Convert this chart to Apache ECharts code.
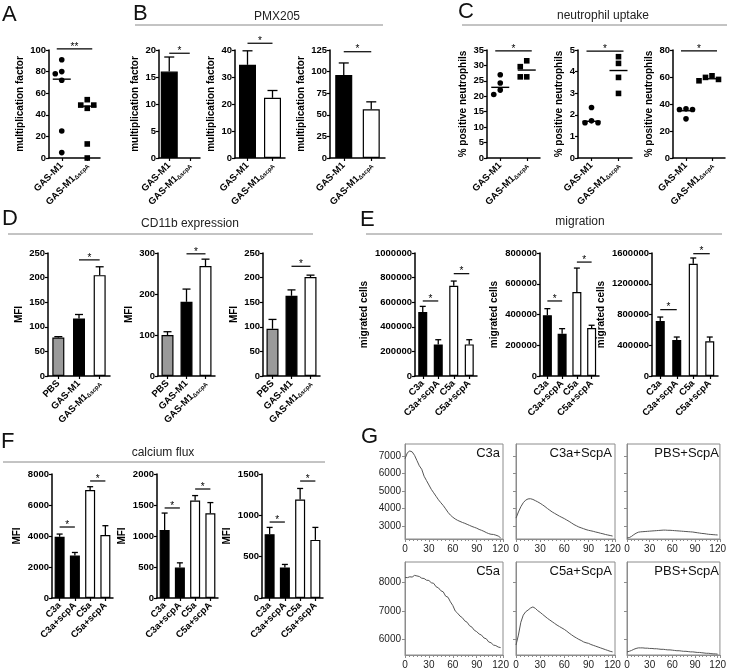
<!DOCTYPE html>
<html><head><meta charset="utf-8">
<script src="https://cdn.jsdelivr.net/npm/echarts@6/dist/echarts.min.js"></script>
<style>html,body{margin:0;padding:0;background:#fff}#c{width:729px;height:671px}</style>
</head><body><div id="c"></div>
<script>
// ================= DATA =================
const strainCats = ['GAS-M1', 'GAS-M1ΔscpA'];
const cd11Cats = ['PBS', 'GAS-M1', 'GAS-M1ΔscpA'];
const anaCats = ['C3a', 'C3a+scpA', 'C5a', 'C5a+scpA'];

// A: multiplication factor (dot plot, line = median)
const aWT = [91, 80, 78, 72, 25, 5];
const aMut = [54, 49, 49, 46, 13, 0];
const aMed = [73, 48];
const aTicks = [0, 100, 20];
const aSig = [[0, 1, 101, 2]];

// B: PMX205
const b1Vals = [16, 0],     b1Up = [18.7, 0];
const b2Vals = [34.5, 22.3], b2Up = [39.7, 25];
const b3Vals = [96, 56.5],  b3Up = [110, 65];
const b1Ticks = [0, 20, 5], b2Ticks = [0, 40, 10], b3Ticks = [0, 125, 25];
const b1Sig = [[0, 1, 19.4, 1]], b2Sig = [[0, 1, 42.5, 1]], b3Sig = [[0, 1, 123, 1]];

// C: neutrophil uptake
const c1WT = [27, 24.3, 22, 20.6],     c1Mut = [31.5, 29.6, 26.3, 26.3], c1Med = [22.9, 28.5];
const c2WT = [2.34, 1.72, 1.63, 1.63], c2Mut = [4.69, 4.38, 3.73, 2.99], c2Med = [1.70, 4.05];
const c3WT = [36.4, 35.9, 35.9, 29],   c3Mut = [60.9, 59.7, 58.2, 57.2], c3Med = [35, 58.7];
const c1Ticks = [0, 35, 5], c2Ticks = [0, 5, 1], c3Ticks = [0, 80, 20];
const c1Sig = [[0, 1, 34.7, 1]], c2Sig = [[0, 1, 4.95, 1]], c3Sig = [[0, 1, 79.3, 1]];

// D: CD11b expression
const d1Vals = [78, 117, 205],  d1Up = [80, 125, 222];
const d2Vals = [100, 181, 268], d2Up = [108, 212, 285];
const d3Vals = [96, 163, 201],  d3Up = [115, 175, 205];
const d1Ticks = [0, 250, 50], d2Ticks = [0, 300, 100], d3Ticks = [0, 250, 50];
const d1Sig = [[1, 2, 236, 1]], d2Sig = [[1, 2, 298, 1]], d3Sig = [[1, 2, 223, 1]];

// E: migration
const e1Vals = [520000, 257000, 734000, 257000],  e1Up = [566000, 295000, 772000, 295000];
const e2Vals = [395000, 275000, 546000, 312000],  e2Up = [438000, 308000, 702000, 330000];
const e3Vals = [715000, 468000, 1461000, 451000], e3Up = [767000, 507000, 1535000, 507000];
const e1Ticks = [0, 1000000, 200000], e2Ticks = [0, 800000, 200000], e3Ticks = [0, 1600000, 400000];
const e1Sig = [[0, 1, 610000, 1], [2, 3, 832000, 1]];
const e2Sig = [[0, 1, 488000, 1], [2, 3, 741000, 1]];
const e3Sig = [[0, 1, 863000, 1], [2, 3, 1591000, 1]];

// F: calcium flux
const f1Vals = [3950, 2743, 6968, 4060], f1Up = [4125, 2937, 7180, 4665];
const f2Vals = [1096, 491, 1571, 1366],  f2Up = [1370, 567, 1652, 1539];
const f3Vals = [772, 370, 1191, 703],    f3Up = [854, 406, 1325, 854];
const f1Ticks = [0, 8000, 2000], f2Ticks = [0, 2000, 500], f3Ticks = [0, 1500, 500];
const f1Sig = [[0, 1, 4580, 1], [2, 3, 7550, 1]];
const f2Sig = [[0, 1, 1452, 1], [2, 3, 1758, 1]];
const f3Sig = [[0, 1, 919, 1], [2, 3, 1415, 1]];

// G: calcium traces (time in s)
const tG = [0,3,6,9,12,15,18,21,24,27,30,33,36,39,42,45,48,51,54,57,60,63,66,69,72,75,78,81,84,87,90,93,96,99,102,105,108,111,114,117,120];
const gC3a  = [6850,7200,7300,7250,7050,6750,6450,6250,5850,5600,5350,5100,4900,4700,4500,4330,4170,3980,3780,3620,3500,3400,3320,3260,3200,3150,3090,3030,2970,2920,2870,2800,2750,2690,2620,2560,2520,2510,2470,2420,2320];
const gC3aS = [3450,3800,4100,4330,4480,4550,4560,4520,4450,4380,4300,4210,4110,4000,3900,3800,3720,3640,3560,3490,3420,3340,3260,3170,3080,3010,2940,2890,2840,2790,2750,2720,2690,2650,2620,2580,2550,2510,2480,2450,2420];
const gPBS1 = [2310,2330,2400,2500,2580,2640,2660,2670,2680,2690,2700,2710,2720,2730,2740,2750,2760,2760,2750,2750,2740,2730,2720,2710,2700,2690,2680,2670,2660,2650,2630,2610,2590,2570,2560,2540,2520,2510,2500,2490,2480];
const gC5a  = [8180,8170,8200,8190,8250,8230,8210,8150,8140,8080,8070,7990,7970,7850,7810,7710,7670,7520,7480,7320,7190,7000,6920,6820,6760,6650,6600,6480,6430,6320,6270,6190,6150,6050,6020,5910,5880,5800,5780,5730,5710];
const gC5aS = [5800,6150,6600,6850,6970,7030,7100,7140,7090,7010,6950,6880,6810,6740,6680,6620,6560,6500,6450,6400,6350,6290,6220,6160,6100,6050,6000,5960,5910,5880,5860,5820,5790,5760,5730,5700,5670,5640,5610,5580,5560];
const gPBS2 = [5560,5580,5610,5650,5680,5700,5700,5700,5690,5690,5680,5680,5670,5670,5660,5650,5650,5640,5630,5630,5620,5610,5600,5600,5590,5580,5580,5570,5560,5560,5550,5540,5540,5530,5520,5510,5510,5500,5490,5490,5480];
const gTopRange = [2250, 7700], gTopTicks = [3000, 4000, 5000, 6000, 7000];
const gBotRange = [5450, 8720], gBotTicks = [6000, 7000, 8000];
const gXTicks = [0, 123, 30];

// ================= BUILD =================
const FONT = '"Liberation Sans", Arial, Helvetica, sans-serif';
const grids = [], xAxes = [], yAxes = [], series = [], graphics = [];
const tickLabel = { fontSize: 9.5, fontWeight: 'bold', color: '#000', fontFamily: FONT };

function addGrid(r) { grids.push({ left: r[0], top: r[1], width: r[2], height: r[3] }); return grids.length - 1; }
function catFmt(v) {
  const k = v.indexOf('Δ');
  return k < 0 ? '{m|' + v + '}' : '{m|' + v.slice(0, k) + '}{s|' + v.slice(k) + '}';
}
function catAxis(gi, cats) {
  xAxes.push({ gridIndex: gi, type: 'category', data: cats,
    axisLine: { show: true, lineStyle: { color: '#000', width: 1.5 } },
    axisTick: { show: true, alignWithLabel: true, length: 3, lineStyle: { color: '#000', width: 1.2 } },
    axisLabel: { interval: 0, rotate: 45, margin: 6, formatter: catFmt,
      rich: { m: Object.assign({}, tickLabel), s: { fontSize: 6, fontWeight: 'bold', color: '#000', fontFamily: FONT, padding: [4, 0, 0, 0] } } },
    splitLine: { show: false } });
}
function valAxis(gi, ticks, name) {
  const gap = String(ticks[1]).length * 5.4 + 8;
  yAxes.push({ gridIndex: gi, type: 'value', min: ticks[0], max: ticks[1], interval: ticks[2],
    name: name, nameLocation: 'middle', nameGap: gap,
    nameTextStyle: { fontSize: 10, fontWeight: 'bold', color: '#000', fontFamily: FONT },
    axisLine: { show: true, lineStyle: { color: '#000', width: 1.5 } },
    axisTick: { show: true, length: 3, lineStyle: { color: '#000', width: 1.2 } },
    axisLabel: Object.assign({ margin: 3, formatter: v => String(v) }, tickLabel),
    splitLine: { show: false } });
}
function errSeries(gi, vals, up, capW) {
  return { type: 'custom', xAxisIndex: gi, yAxisIndex: gi, z: 4, animation: false,
    data: vals.map((v, i) => [i, v, up[i]]),
    renderItem: (p, api) => {
      if (!(api.value(2) > api.value(1))) return null;
      const a = api.coord([api.value(0), api.value(1)]), b = api.coord([api.value(0), api.value(2)]);
      return { type: 'group', children: [
        { type: 'line', shape: { x1: a[0], y1: a[1], x2: b[0], y2: b[1] }, style: { stroke: '#000', lineWidth: 1.3 } },
        { type: 'line', shape: { x1: b[0] - capW, y1: b[1], x2: b[0] + capW, y2: b[1] }, style: { stroke: '#000', lineWidth: 1.3 } }] };
    } };
}
function bracketSeries(gi, list, ext) {
  return { type: 'custom', xAxisIndex: gi, yAxisIndex: gi, z: 5, clip: false, animation: false,
    data: list.map(b => [b[0], b[1], b[2]]),
    renderItem: (p, api) => {
      const a = api.coord([api.value(0), api.value(2)]), b = api.coord([api.value(1), api.value(2)]);
      const lbl = '*'.repeat(list[p.dataIndex][3]);
      return { type: 'group', children: [
        { type: 'line', shape: { x1: a[0] - ext, y1: a[1], x2: b[0] + ext, y2: b[1] }, style: { stroke: '#000', lineWidth: 1.2 } },
        { type: 'text', x: (a[0] + b[0]) / 2, y: a[1] + 3,
          style: { text: lbl, textAlign: 'center', align: 'center', textVerticalAlign: 'bottom', verticalAlign: 'bottom', fontSize: 10, fontFamily: FONT, fill: '#000' } }] };
    } };
}
function barPanel(rect, cats, vals, up, fills, ticks, name, sig, barW, capW) {
  const gi = addGrid(rect); catAxis(gi, cats); valAxis(gi, ticks, name);
  series.push({ type: 'bar', xAxisIndex: gi, yAxisIndex: gi, barWidth: barW, z: 3, animation: false,
    data: vals.map((v, i) => ({ value: v, itemStyle: { color: fills[i], borderColor: '#000', borderWidth: v > 0 ? 1.2 : 0 } })) });
  series.push(errSeries(gi, vals, up, capW));
  series.push(bracketSeries(gi, sig, 0));
}
function dotSeries(gi, ci, vals, shape) {
  return { type: 'custom', xAxisIndex: gi, yAxisIndex: gi, z: 3, animation: false,
    data: vals.map(v => [ci, v]),
    renderItem: (p, api) => {
      const pts = vals.map(v => api.coord([ci, v]));
      const offs = [], s = 6.5;
      for (let j = 0; j < pts.length; j++) {
        for (const c of [0, -s, s, -2 * s, 2 * s]) {
          let ok = true;
          for (let k = 0; k < j; k++) {
            if (Math.abs(pts[j][1] - pts[k][1]) < 6 && Math.abs(c - offs[k]) < 6) { ok = false; break; }
          }
          if (ok) { offs[j] = c; break; }
        }
        if (offs[j] === undefined) offs[j] = 0;
      }
      const j = p.dataIndex, x = pts[j][0] + offs[j], y = pts[j][1], r = 2.8;
      return shape === 'circle'
        ? { type: 'circle', shape: { cx: x, cy: y, r: r }, style: { fill: '#000' } }
        : { type: 'rect', shape: { x: x - r, y: y - r, width: 2 * r, height: 2 * r }, style: { fill: '#000' } };
    } };
}
function medianSeries(gi, meds) {
  return { type: 'custom', xAxisIndex: gi, yAxisIndex: gi, z: 4, animation: false,
    data: meds.map((v, i) => [i, v]),
    renderItem: (p, api) => {
      const c = api.coord([api.value(0), api.value(1)]);
      return { type: 'line', shape: { x1: c[0] - 9, y1: c[1], x2: c[0] + 9, y2: c[1] }, style: { stroke: '#000', lineWidth: 1.4 } };
    } };
}
function dotPanel(rect, cats, groups, meds, ticks, name, sig) {
  const gi = addGrid(rect); catAxis(gi, cats); valAxis(gi, ticks, name);
  groups.forEach((g, ci) => series.push(dotSeries(gi, ci, g, ci === 0 ? 'circle' : 'rect')));
  series.push(medianSeries(gi, meds));
  series.push(bracketSeries(gi, sig, 5));
}
const G_GRAY = '#8c8c8c';
function gPanel(rect, vals, range, yTicks, showY, label) {
  const gi = addGrid(rect);
  Object.assign(grids[gi], { show: true, borderColor: G_GRAY, borderWidth: 1, backgroundColor: 'transparent' });
  xAxes.push({ gridIndex: gi, type: 'value', min: gXTicks[0], max: gXTicks[1], interval: gXTicks[2],
    axisLine: { show: true, lineStyle: { color: G_GRAY } },
    axisTick: { show: true, length: 3, lineStyle: { color: G_GRAY } },
    minorTick: { show: true, splitNumber: 6, length: 2, lineStyle: { color: G_GRAY } },
    axisLabel: { fontSize: 10, color: '#222', fontFamily: FONT, margin: 5, showMaxLabel: false },
    splitLine: { show: false } });
  yAxes.push({ gridIndex: gi, type: 'value', min: range[0], max: range[1],
    axisLine: { show: true, lineStyle: { color: G_GRAY } },
    axisTick: { show: true, length: 3, customValues: yTicks, lineStyle: { color: G_GRAY } },
    axisLabel: { show: showY, customValues: yTicks, fontSize: 10, color: '#222', fontFamily: FONT, margin: 4, formatter: v => String(v) },
    splitLine: { show: false } });
  series.push({ type: 'line', xAxisIndex: gi, yAxisIndex: gi, data: tG.map((t, i) => [t, vals[i]]),
    showSymbol: false, symbol: 'none', lineStyle: { color: '#555', width: 1 }, animation: false });
  graphics.push({ type: 'text', x: rect[0] + rect[2] - 3, y: rect[1] + 3,
    style: { text: label, textAlign: 'right', align: 'right', textVerticalAlign: 'top', verticalAlign: 'top', fontSize: 13, fontFamily: FONT, fill: '#111' } });
}

// styles
const twoFill = ['#000', '#fff'];
const threeFill = ['#9a9a9a', '#000', '#fff'];
const fourFill = ['#000', '#000', '#fff', '#fff'];
const MF = 'multiplication factor', PN = '% positive neutrophils', MFI = 'MFI', MC = 'migrated cells';

// A
dotPanel([49, 50, 51, 108], strainCats, [aWT, aMut], aMed, aTicks, MF, aSig);
// B
barPanel([159, 50, 41, 108], strainCats, b1Vals, b1Up, twoFill, b1Ticks, MF, b1Sig, 17, 5);
barPanel([235, 50, 50, 108], strainCats, b2Vals, b2Up, twoFill, b2Ticks, MF, b2Sig, 17, 5);
barPanel([330, 50, 55, 108], strainCats, b3Vals, b3Up, twoFill, b3Ticks, MF, b3Sig, 17, 5);
// C
dotPanel([487, 50, 53, 108], strainCats, [c1WT, c1Mut], c1Med, c1Ticks, PN, c1Sig);
dotPanel([578, 50, 54, 108], strainCats, [c2WT, c2Mut], c2Med, c2Ticks, PN, c2Sig);
dotPanel([673, 50, 52, 108], strainCats, [c3WT, c3Mut], c3Med, c3Ticks, PN, c3Sig);
// D
barPanel([48, 253, 62, 123], cd11Cats, d1Vals, d1Up, threeFill, d1Ticks, MFI, d1Sig, 12, 4);
barPanel([158, 253, 57, 123], cd11Cats, d2Vals, d2Up, threeFill, d2Ticks, MFI, d2Sig, 12, 4);
barPanel([263, 253, 57, 123], cd11Cats, d3Vals, d3Up, threeFill, d3Ticks, MFI, d3Sig, 12, 4);
// E
barPanel([415, 253, 62, 123], anaCats, e1Vals, e1Up, fourFill, e1Ticks, MC, e1Sig, 9, 3);
barPanel([540, 253, 59, 123], anaCats, e2Vals, e2Up, fourFill, e2Ticks, MC, e2Sig, 9, 3);
barPanel([652, 253, 66, 123], anaCats, e3Vals, e3Up, fourFill, e3Ticks, MC, e3Sig, 9, 3);
// F
barPanel([52, 474, 61, 124], anaCats, f1Vals, f1Up, fourFill, f1Ticks, MFI, f1Sig, 10, 3);
barPanel([157, 474, 61, 124], anaCats, f2Vals, f2Up, fourFill, f2Ticks, MFI, f2Sig, 10, 3);
barPanel([262, 474, 61, 124], anaCats, f3Vals, f3Up, fourFill, f3Ticks, MFI, f3Sig, 10, 3);
// G
gPanel([405, 444, 98, 95], gC3a, gTopRange, gTopTicks, true, 'C3a');
gPanel([516, 444, 99, 95], gC3aS, gTopRange, gTopTicks, false, 'C3a+ScpA');
gPanel([627, 444, 95, 95], gPBS1, gTopRange, gTopTicks, false, 'PBS+ScpA');
gPanel([405, 562, 98, 93], gC5a, gBotRange, gBotTicks, true, 'C5a');
gPanel([516, 562, 99, 93], gC5aS, gBotRange, gBotTicks, false, 'C5a+ScpA');
gPanel([627, 562, 95, 93], gPBS2, gBotRange, gBotTicks, false, 'PBS+ScpA');

// panel letters, section titles, separators
[['A', 2, 4], ['B', 133, 3], ['C', 458, 1], ['D', 2, 208], ['E', 360, 209], ['F', 1, 431], ['G', 361, 426]].forEach(l =>
  graphics.push({ type: 'text', x: l[1], y: l[2], style: { text: l[0], fontSize: 22, fontFamily: FONT, fill: '#111', textVerticalAlign: 'top', verticalAlign: 'top' } }));
[['PMX205', 277, 17], ['neutrophil uptake', 603, 16], ['CD11b expression', 190, 224], ['migration', 580, 222], ['calcium flux', 163, 453]].forEach(t =>
  graphics.push({ type: 'text', x: t[1], y: t[2], style: { text: t[0], fontSize: 12, fontFamily: FONT, fill: '#222', textAlign: 'center', align: 'center', textVerticalAlign: 'middle', verticalAlign: 'middle' } }));
[[135, 383, 25], [462, 727, 25], [8, 313, 234], [366, 722, 234], [3, 325, 462]].forEach(s =>
  graphics.push({ type: 'line', shape: { x1: s[0], y1: s[2], x2: s[1], y2: s[2] }, style: { stroke: '#888', lineWidth: 1 } }));

const chart = echarts.init(document.getElementById('c'), null, { renderer: 'canvas' });
chart.setOption({ animation: false, backgroundColor: '#fff', textStyle: { fontFamily: FONT },
  grid: grids, xAxis: xAxes, yAxis: yAxes, series: series, graphic: graphics });
</script></body></html>
